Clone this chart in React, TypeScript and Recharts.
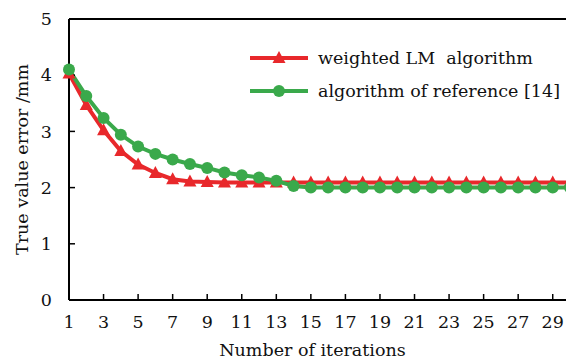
import React from 'react';
import { LineChart, Line, XAxis, YAxis, Label } from 'recharts';

const iterations = [1, 2, 3, 4, 5, 6, 7, 8, 9, 10, 11, 12, 13, 14, 15, 16, 17, 18, 19, 20, 21, 22, 23, 24, 25, 26, 27, 28, 29, 30];
const weightedLM = [4.03, 3.47, 3.02, 2.65, 2.41, 2.26, 2.15, 2.11, 2.1, 2.09, 2.09, 2.09, 2.09, 2.09, 2.09, 2.09, 2.09, 2.09, 2.09, 2.09, 2.09, 2.09, 2.09, 2.09, 2.09, 2.09, 2.09, 2.09, 2.09, 2.09];
const reference14 = [4.1, 3.63, 3.24, 2.94, 2.73, 2.6, 2.5, 2.42, 2.35, 2.27, 2.22, 2.18, 2.12, 2.03, 2.0, 2.0, 2.0, 2.0, 2.0, 2.0, 2.0, 2.0, 2.0, 2.0, 2.0, 2.0, 2.0, 2.0, 2.0, 2.0];
const xTicks = [1, 3, 5, 7, 9, 11, 13, 15, 17, 19, 21, 23, 25, 27, 29];
const yTicks = [0, 1, 2, 3, 4, 5];
const seriesNames = ['weighted LM  algorithm', 'algorithm of reference [14]'];

const RED = '#e8282b';
const GREEN = '#3aa94b';
const FONT = '"DejaVu Serif", "Liberation Serif", serif';

const chartData = iterations.map((it, i) => ({ it, lm: weightedLM[i], ref: reference14[i] }));

const Triangle = (props: any) => {
    const { cx, cy, fill } = props;
    if (cx == null || cy == null) return null;
    return <path d={`M${cx},${cy - 7} L${cx + 6.5},${cy + 5} L${cx - 6.5},${cy + 5} Z`} fill={fill} />;
};

// legend drawn as an overlay so it does not take space from the plot
const LegendBox = () => (
    <svg width={330} height={70} style={{ position: 'absolute', left: 234, top: 28, fontFamily: FONT }}>
        <line x1={8} y1={22} x2={66} y2={22} stroke={RED} strokeWidth={4} />
        <path d="M37,15 L43.5,27 L30.5,27 Z" fill={RED} />
        <text x={76} y={28} fontSize={17.5} fill="#111" style={{ whiteSpace: 'pre' }}>{seriesNames[0]}</text>
        <line x1={8} y1={55} x2={66} y2={55} stroke={GREEN} strokeWidth={4} />
        <circle cx={37} cy={55} r={6} fill={GREEN} />
        <text x={76} y={61} fontSize={17.5} fill="#111">{seriesNames[1]}</text>
    </svg>
);

const App: React.FC = () => {
    const tickStyle = { fill: '#111', fontSize: 17.5, fontFamily: FONT };
    return (
        <div style={{ position: 'relative', width: 566, height: 351 }}>
            <LineChart width={566} height={351} data={chartData} margin={{ top: 11, right: 4, bottom: 0, left: 0 }}>
                <XAxis
                    dataKey="it"
                    type="number"
                    domain={[1, 30]}
                    ticks={xTicks}
                    height={59}
                    tickSize={-6}
                    tickMargin={22}
                    tick={tickStyle}
                    axisLine={{ stroke: '#000', strokeWidth: 2 }}
                    tickLine={{ stroke: '#000', strokeWidth: 1.5 }}
                    interval={0}
                >
                    <Label value="Number of iterations" position="insideBottom" offset={3} dx={-7} style={{ fill: '#111', fontSize: 17.5, fontFamily: FONT }} />
                </XAxis>
                <YAxis
                    domain={[0, 5]}
                    ticks={yTicks}
                    width={61}
                    tickSize={-6}
                    tickMargin={23}
                    tick={tickStyle}
                    axisLine={{ stroke: '#000', strokeWidth: 2 }}
                    tickLine={{ stroke: '#000', strokeWidth: 1.5 }}
                >
                    <Label value="True value error /mm" angle={-90} position="insideLeft" offset={14} style={{ textAnchor: 'middle', fill: '#111', fontSize: 17.5, fontFamily: FONT }} />
                </YAxis>
                <Line dataKey="lm" stroke={RED} strokeWidth={4} dot={<Triangle fill={RED} />} isAnimationActive={false} />
                <Line dataKey="ref" stroke={GREEN} strokeWidth={4} dot={{ r: 6, fill: GREEN, stroke: GREEN, strokeWidth: 0 }} isAnimationActive={false} />
            </LineChart>
            {/* frame on top and right of the plot area */}
            <div style={{ position: 'absolute', left: 61, top: 10, width: 502, height: 282, boxSizing: 'border-box', borderTop: '2px solid #000', borderRight: '2px solid #000', pointerEvents: 'none' }} />
            <LegendBox />
        </div>
    );
};

export default App;
